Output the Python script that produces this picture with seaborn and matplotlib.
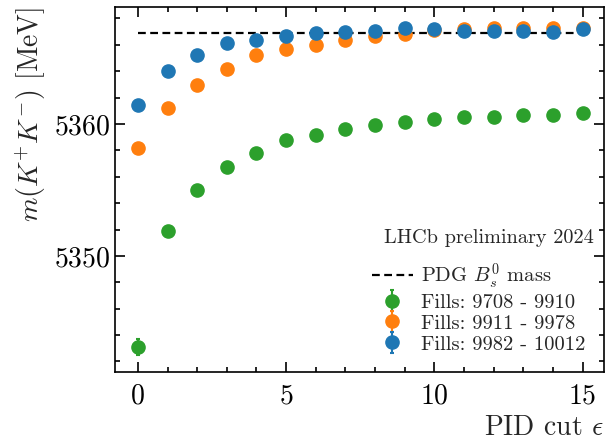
import numpy as np
import matplotlib
matplotlib.use("Agg")
import matplotlib.pyplot as plt
import seaborn as sns
import pandas as pd

pid_cut = list(range(16))
mass_fills_a = [5343.1, 5351.9, 5355.0, 5356.7, 5357.8, 5358.75, 5359.2, 5359.6,
                5359.9, 5360.15, 5360.4, 5360.5, 5360.55, 5360.7, 5360.7, 5360.8]
err_fills_a = [0.6, 0.4, 0.3, 0.25, 0.22, 0.2, 0.2, 0.2, 0.2, 0.2, 0.2, 0.2, 0.2, 0.2, 0.2, 0.2]
mass_fills_b = [5358.2, 5361.2, 5362.95, 5364.2, 5365.2, 5365.7, 5366.0, 5366.4,
                5366.7, 5366.85, 5367.1, 5367.2, 5367.3, 5367.3, 5367.3, 5367.3]
err_fills_b = [0.3, 0.25, 0.2, 0.2, 0.2, 0.2, 0.2, 0.2, 0.2, 0.2, 0.2, 0.2, 0.2, 0.2, 0.2, 0.2]
mass_fills_c = [5361.4, 5364.0, 5365.2, 5366.1, 5366.4, 5366.7, 5366.9, 5366.95,
                5367.05, 5367.3, 5367.2, 5367.05, 5367.05, 5367.05, 5367.0, 5367.2]
err_fills_c = [0.3, 0.25, 0.2, 0.2, 0.2, 0.2, 0.2, 0.2, 0.2, 0.2, 0.2, 0.2, 0.2, 0.2, 0.2, 0.2]
labels = ["Fills: 9708 - 9910", "Fills: 9911 - 9978", "Fills: 9982 - 10012"]
colors = ["#2ca02c", "#ff7f0e", "#1f77b4"]
pdg_mass = 5366.93

sns.set_theme(style="ticks")
plt.rcParams.update({
    "font.family": "cmr10",
    "mathtext.fontset": "cm",
    "axes.unicode_minus": False,
    "axes.formatter.use_mathtext": True,
    "axes.linewidth": 1.2,
    "axes.edgecolor": "black",
    "xtick.color": "black",
    "ytick.color": "black",
})

fig = plt.figure(figsize=(6.07, 4.4), dpi=100)
ax = fig.add_axes([0.1895, 0.1545, 0.8055, 0.8295])

pdg_df = pd.DataFrame({"x": [pid_cut[0], pid_cut[-1]], "y": [pdg_mass, pdg_mass]})
sns.lineplot(data=pdg_df, x="x", y="y", ax=ax, color="black", linestyle="--",
             linewidth=1.6, label=r"PDG $B_s^0$ mass", dashes=False)
ax.lines[-1].set_linestyle((0, (3.5, 2.0)))

for m, e, lab, c in zip([mass_fills_a, mass_fills_b, mass_fills_c],
                        [err_fills_a, err_fills_b, err_fills_c], labels, colors):
    ax.errorbar(pid_cut, m, yerr=e, fmt="o", color=c, markersize=9.5,
                elinewidth=1.5, capsize=1.5, capthick=1.5, label=lab)

ax.set_xlim(-0.77, 15.72)
ax.set_ylim(5341.2, 5368.86)
ax.set_xticks([0, 5, 10, 15])
ax.set_xticks(np.arange(0, 16, 1), minor=True)
ax.set_yticks([5350, 5360])
ax.set_yticks(np.arange(5342, 5369, 2), minor=True)
ax.ticklabel_format(axis="y", useOffset=False)
ax.tick_params(which="both", direction="in", top=True, right=True, labelsize=20, width=1.2)
ax.tick_params(which="major", length=7)
ax.tick_params(which="minor", length=3.6)
ax.tick_params(axis="x", pad=8)

ax.set_xlabel(r"PID cut $\epsilon$", fontsize=20, loc="right")
ax.set_ylabel(r"$m(K^{+}K^{-})$ [MeV]", fontsize=20, loc="top")

ax.text(0.98, 0.367, "LHCb preliminary 2024", transform=ax.transAxes,
        ha="right", va="center", fontsize=14.6)
leg = ax.legend(loc="lower right", fontsize=14.8, frameon=False, handlelength=2.0,
                handletextpad=0.4, labelspacing=0.12, borderaxespad=0.5)

fig.savefig("out.png", dpi=100)
